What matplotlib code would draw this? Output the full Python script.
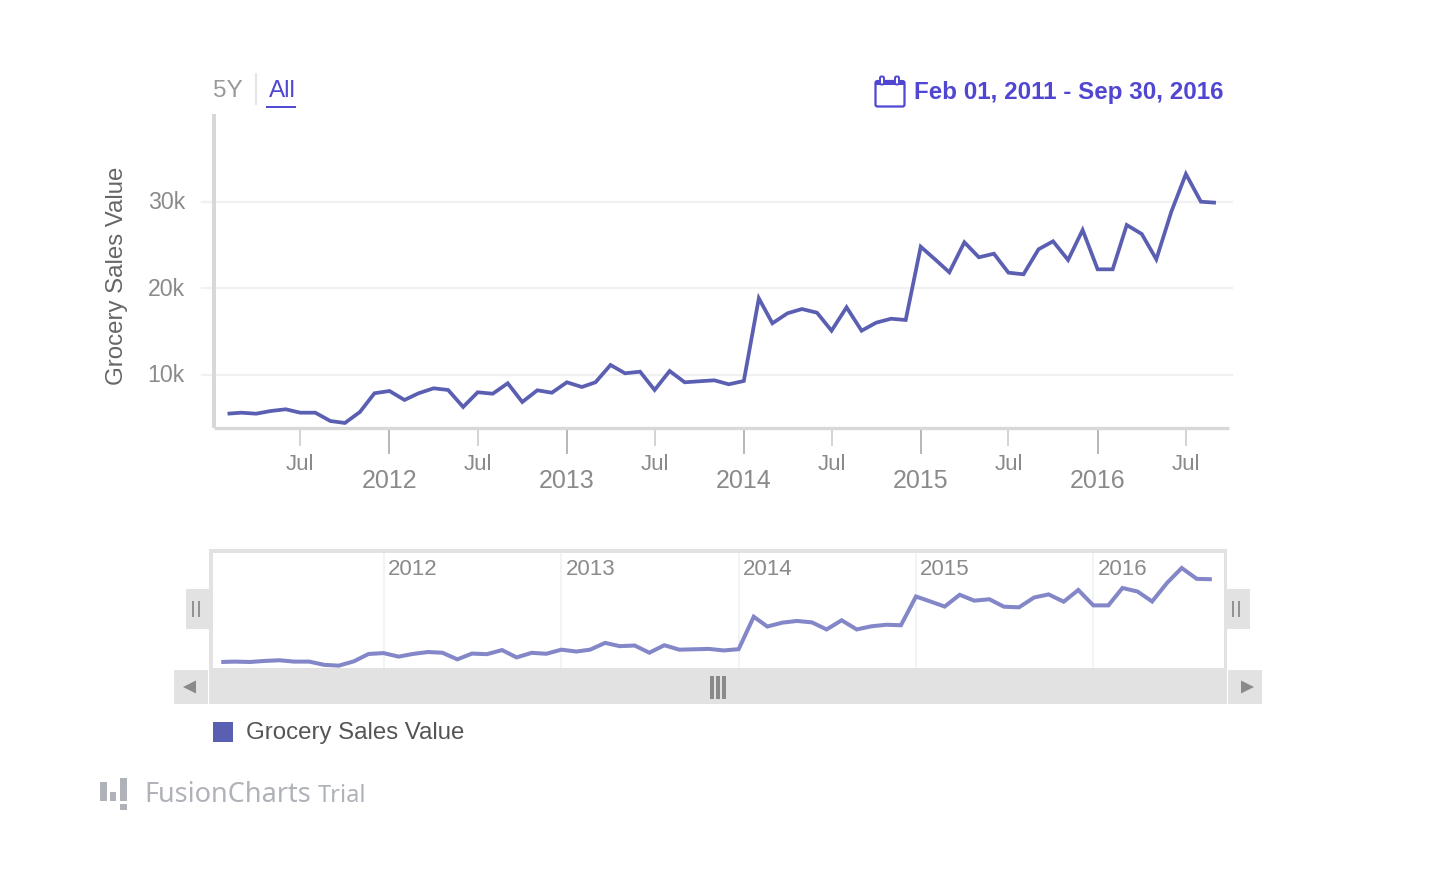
import numpy as np
import pandas as pd
import matplotlib
matplotlib.use('Agg')
import matplotlib.pyplot as plt
import matplotlib.dates as mdates
from matplotlib.patches import Rectangle, Polygon, FancyBboxPatch
from matplotlib.transforms import ScaledTranslation

plt.rcParams['font.family'] = ['Liberation Sans', 'DejaVu Sans']

sales_2011 = [5470, 5585, 5470, 5780, 5980, 5585, 5585, 4625, 4395, 5665, 7830]
sales_2012 = [8095, 7055, 7830, 8405, 8210, 6245, 7945, 7780, 8985, 6820, 8175, 7895]
sales_2013 = [9100, 8555, 9100, 11100, 10140, 10325, 8210, 10405, 9100, 9215, 9330, 8870]
sales_2014 = [9250, 18810, 15920, 17075, 17570, 17145, 15065, 17770, 15065, 15990, 16450, 16300]
sales_2015 = [24775, 23240, 21815, 25285, 23550, 23965, 21770, 21585, 24475, 25400, 23240, 26705]
sales_2016 = [22160, 22160, 27285, 26245, 23320, 28820, 33180, 29975, 29860]
sales = sales_2011 + sales_2012 + sales_2013 + sales_2014 + sales_2015 + sales_2016
months = pd.date_range('2011-02-01', periods=len(sales), freq='MS')

y_ticks = [10000, 20000, 30000]
y_labels = ['10k', '20k', '30k']
series_name = 'Grocery Sales Value'
date_range_text = 'Feb 01, 2011 - Sep 30, 2016'

W, H = 1438, 890
LINE = '#5b5fb2'
LINE_NAV = '#8387c8'
ACCENT = '#5046d2'
CHROME = '#e2e2e2'
GREY = '#8a8a8a'
MARK = '#b0b2ba'

fig = plt.figure(figsize=(W / 100, H / 100), dpi=100)


def px_axes(left, top, right, bottom, **kw):
    return fig.add_axes([left / W, 1 - bottom / H, (right - left) / W, (bottom - top) / H], **kw)


# page level things are laid out in pixels, y going down
page = px_axes(0, 0, W, H)
page.set_xlim(0, W)
page.set_ylim(H, 0)
page.axis('off')

# main chart
ax = px_axes(214, 114, 1229.5, 428)
ax.patch.set_alpha(0)
ax.plot(months, sales, color=LINE, lw=2.7, solid_joinstyle='miter', solid_capstyle='butt', zorder=3)
ax.set_xlim(pd.Timestamp('2011-01-04'), pd.Timestamp('2016-09-29'))
ax.set_ylim(3815, 40116)
for s in ['top', 'right']:
    ax.spines[s].set_visible(False)
ax.spines['left'].set_linewidth(2.9)
ax.spines['bottom'].set_linewidth(2.4)
for s in ['left', 'bottom']:
    ax.spines[s].set_color('#d8d8d8')
    ax.spines[s].set_capstyle('butt')

ax.set_yticks(y_ticks)
ax.set_yticklabels(y_labels, fontsize=16.7, color=GREY)
ax.tick_params(axis='y', length=0, pad=21)
for t in ax.get_yticklabels():
    t.set_transform(t.get_transform() + ScaledTranslation(0, 1.5 / 100, fig.dpi_scale_trans))
for v in y_ticks:
    # grid runs slightly past both sides of the plot
    ax.plot([-0.012, 1.0025], [v, v], transform=ax.get_yaxis_transform(), color='#f1f1f1',
            lw=1.6, clip_on=False, zorder=1)

ax.xaxis.set_major_locator(mdates.YearLocator())
ax.xaxis.set_major_formatter(mdates.DateFormatter('%Y'))
ax.xaxis.set_minor_locator(mdates.MonthLocator(bymonth=[7]))
ax.xaxis.set_minor_formatter(mdates.DateFormatter('%b'))
ax.tick_params(axis='x', which='major', length=19, width=1.2, color='#aaaaaa', labelsize=18,
               labelcolor=GREY, pad=10.5)
ax.tick_params(axis='x', which='minor', length=13, width=1.2, color='#cccccc', labelsize=16,
               labelcolor=GREY, pad=6)
page.text(117, 276, series_name, rotation=90, fontsize=17.3, color='#666666', ha='center', va='center')

# range selector and date range
page.text(227.5, 91, '5Y', fontsize=17.5, color='#999999', ha='center', va='center')
page.plot([255.5, 255.5], [73, 105], color='#e6e6e6', lw=1.6, solid_capstyle='butt')
page.text(282, 91, 'All', fontsize=17.5, color=ACCENT, ha='center', va='center')
page.plot([266, 296], [107, 107], color=ACCENT, lw=1.4, solid_capstyle='butt')
page.text(1223, 93, date_range_text, fontsize=17.35, fontweight='bold', color=ACCENT, ha='right', va='center')
page.add_patch(FancyBboxPatch((875.5, 81), 29, 25.5, boxstyle='round,pad=0,rounding_size=2',
                              fc='white', ec=ACCENT, lw=1.6))
page.add_patch(Rectangle((875, 81), 30, 4, fc=ACCENT, ec='none'))
for cx in [882, 897]:
    page.add_patch(FancyBboxPatch((cx - 2, 76.5), 4, 8, boxstyle='round,pad=0,rounding_size=1.5',
                                  fc='white', ec=ACCENT, lw=1.4))

# navigator
page.add_patch(Rectangle((209, 549), 1018, 121, fc=CHROME, ec='none'))
nav = px_axes(213, 553, 1224, 668)
nav.plot(months, sales, color=LINE_NAV, lw=2.9, solid_joinstyle='miter', solid_capstyle='butt', zorder=3)
nav.set_xlim(pd.Timestamp('2011-01-15'), pd.Timestamp('2016-09-26'))
nav.set_ylim(3700, 37600)
nav.set_yticks([])
nav.xaxis.set_major_locator(mdates.YearLocator())
nav.xaxis.set_major_formatter(mdates.DateFormatter('%Y'))
nav.tick_params(axis='x', length=0, labelbottom=False)
nav.grid(axis='x', color='#f1f4f5', lw=1.4)
for s in nav.spines.values():
    s.set_visible(False)
for year in range(2012, 2017):
    nav.annotate(str(year), (mdates.date2num(pd.Timestamp(f'{year}-01-01')), 1),
                 xycoords=nav.get_xaxis_transform(), xytext=(3, -4), textcoords='offset points',
                 fontsize=16, color=GREY, ha='left', va='top')

# handles, scrollbar
page.add_patch(Rectangle((186, 589), 23, 40, fc=CHROME, ec='none'))
page.add_patch(Rectangle((1227, 589), 23, 40, fc=CHROME, ec='none'))
for bx in [193, 199, 1233, 1239]:
    page.plot([bx, bx], [601, 617], color=GREY, lw=1.3, solid_capstyle='butt')
page.add_patch(Rectangle((209, 670), 1018, 34, fc=CHROME, ec='none'))
page.add_patch(Rectangle((174, 670), 34, 34, fc=CHROME, ec='none'))
page.add_patch(Rectangle((1228, 670), 34, 34, fc=CHROME, ec='none'))
page.add_patch(Polygon([[183, 687], [196, 680.5], [196, 693.5]], fc=GREY, ec='none'))
page.add_patch(Polygon([[1254, 687], [1241, 680.5], [1241, 693.5]], fc=GREY, ec='none'))
for bx in [710, 716, 722]:
    page.add_patch(Rectangle((bx, 676), 4, 23, fc=GREY, ec='none'))

# legend
page.add_patch(Rectangle((213, 722), 20, 20, fc=LINE, ec='none'))
page.text(246, 733, series_name, fontsize=17.25, color='#555555', ha='left', va='center')

# trial watermark
for bx, by, bw, bh in [(100, 782, 6.5, 19), (109.5, 792, 6, 9), (119.5, 778, 7, 23), (119.5, 804, 7, 6)]:
    page.add_patch(Rectangle((bx, by), bw, bh, fc=MARK, ec='none'))
page.text(144, 795, 'FusionCharts', fontsize=19.5, fontweight='semibold', color=MARK, family=['Noto Sans'],
          ha='left', va='center')
page.text(318, 796, 'Trial', fontsize=17, fontweight='semibold', color=MARK, family=['Noto Sans'],
          ha='left', va='center')

fig.savefig('out.png', dpi=100)
